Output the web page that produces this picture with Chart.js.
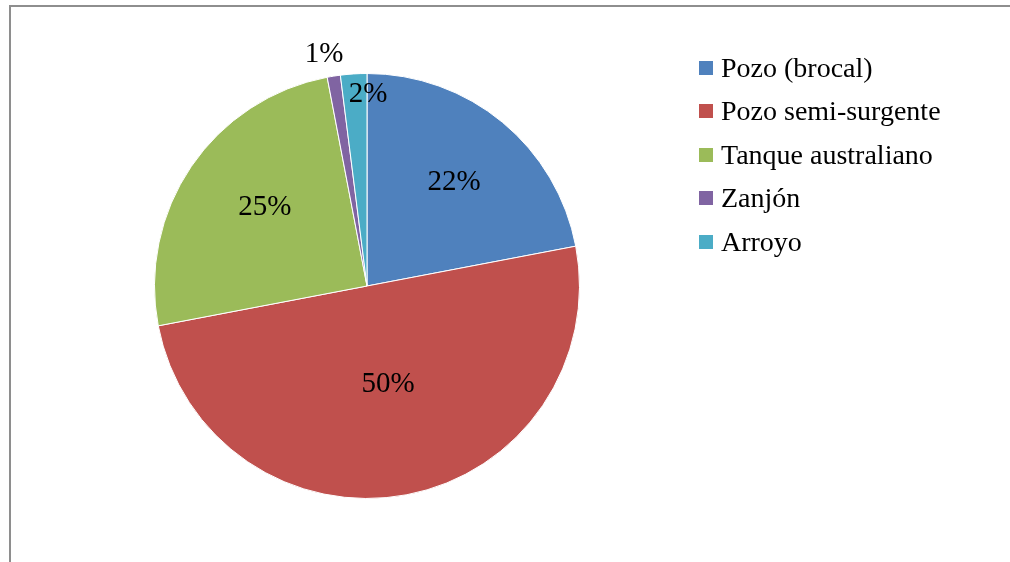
<!DOCTYPE html>
<html>
<head>
<meta charset="utf-8">
<script src="https://cdn.jsdelivr.net/npm/chart.js@4/dist/chart.umd.min.js"></script>
<style>
    html, body { margin: 0; padding: 0; background: #fff; }
    #wrap { position: relative; width: 1010px; height: 562px; overflow: hidden; }
    #frame {
        position: absolute; left: 9px; top: 5px; width: 1100px; height: 700px;
        border: 2px solid #8e8e8e; box-sizing: border-box;
    }
    canvas { position: absolute; left: 0; top: 0; }
    #legend {
        position: absolute; left: 699px; top: 46px;
        font-family: "Liberation Serif", "Times New Roman", serif; font-size: 28px; color: #000;
    }
    .item { height: 43.5px; display: flex; align-items: center; white-space: nowrap; }
    .box { width: 14px; height: 14px; margin-right: 8px; }
</style>
</head>
<body>
<div id="wrap">
    <div id="frame"></div>
    <canvas id="chart" width="1010" height="562"></canvas>
    <div id="legend"></div>
</div>
<script>
// Fuentes de agua (porcentaje)
const categories = ['Pozo (brocal)', 'Pozo semi-surgente', 'Tanque australiano', 'Zanjón', 'Arroyo'];
const percentages = [22, 50, 25, 1, 2];
const colors = ['#4F81BD', '#C0504D', '#9BBB59', '#8064A2', '#4BACC6'];

// label distance from centre (share of radius) and small angle nudges, in radians
const labelRadius = [0.636, 0.473, 0.606, 1.11, 0.9];
const labelShift = [0.01, -0.023, 0.056, -0.026, 0.068];

const pieLabels = {
    id: 'pieLabels',
    afterDatasetsDraw(chart) {
        const ctx = chart.ctx;
        const meta = chart.getDatasetMeta(0);
        ctx.save();
        ctx.font = '29px "Liberation Serif", "Times New Roman", serif';
        ctx.fillStyle = '#000';
        ctx.textAlign = 'center';
        ctx.textBaseline = 'middle';
        meta.data.forEach((arc, i) => {
            const mid = (arc.startAngle + arc.endAngle) / 2 + labelShift[i];
            const r = arc.outerRadius * labelRadius[i];
            ctx.fillText(percentages[i] + '%', arc.x + Math.cos(mid) * r, arc.y + Math.sin(mid) * r);
        });
        ctx.restore();
    },
};

new Chart(document.getElementById('chart').getContext('2d'), {
    type: 'pie',
    data: {
        labels: categories,
        datasets: [{
            data: percentages,
            backgroundColor: colors,
            borderColor: '#ffffff',
            borderWidth: 1,
        }],
    },
    options: {
        responsive: false,
        animation: false,
        layout: { padding: { left: 154, right: 430, top: 73, bottom: 63 } },
        plugins: {
            legend: { display: false },
            tooltip: { enabled: false },
        },
    },
    plugins: [pieLabels],
});

const legendEl = document.getElementById('legend');
categories.forEach((name, i) => {
    const row = document.createElement('div');
    row.className = 'item';
    row.innerHTML = `<span class="box" style="background:${colors[i]}"></span><span>${name}</span>`;
    legendEl.appendChild(row);
});
</script>
</body>
</html>
